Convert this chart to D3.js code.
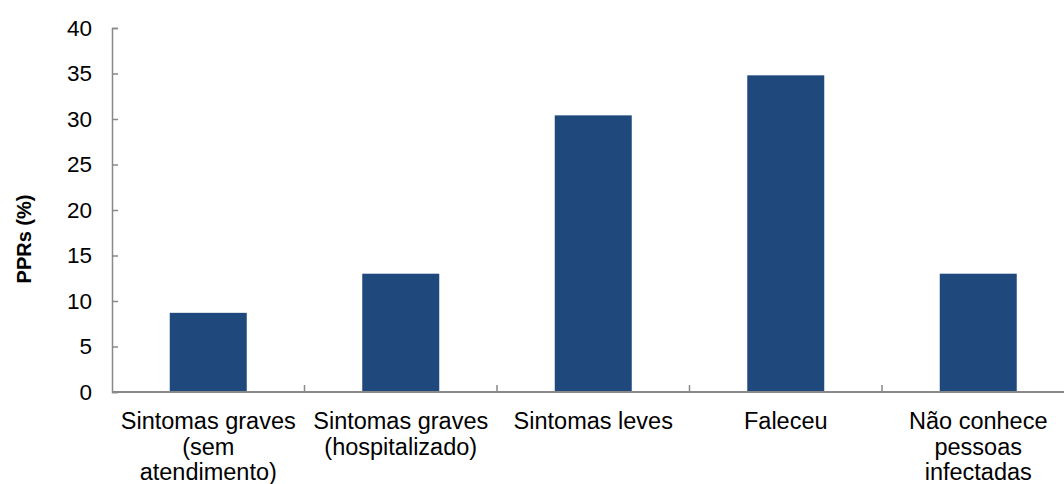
<!DOCTYPE html>
<html>
<head>
<meta charset="utf-8">
<script src="https://cdn.jsdelivr.net/npm/d3@7"></script>
<style>
  html, body { margin: 0; padding: 0; background: #ffffff; }
  svg { display: block; font-family: "Liberation Sans", Arial, sans-serif; }
</style>
</head>
<body>
<svg id="chart" width="1064" height="484"></svg>
<script>
// Categories (each label split into its display lines)
const categories = [
  ["Sintomas graves", "(sem", "atendimento)"],
  ["Sintomas graves", "(hospitalizado)"],
  ["Sintomas leves"],
  ["Faleceu"],
  ["Não conhece", "pessoas", "infectadas"]
];
// PPRs (%) per category
const values = [8.7, 13.0, 30.4, 34.8, 13.0];
// Y-axis ticks
const yTicks = [0, 5, 10, 15, 20, 25, 30, 35, 40];
const yTitle = "PPRs (%)";

(function draw() {
  const svg = d3.select("#chart");
  const W = 1064;
  const plotLeft = 112, plotRight = 1074.5, plotTop = 28, plotBottom = 392;
  const axisColor = "#898989";
  const barColor = "#1f497d";

  const keys = categories.map((c, i) => i);
  const x = d3.scaleBand()
    .domain(keys)
    .range([plotLeft, plotRight])
    .paddingInner(0.6)
    .paddingOuter(0.3);

  const y = d3.scaleLinear()
    .domain([0, 40])
    .range([plotBottom, plotTop]);

  // Bars
  svg.append("g")
    .selectAll("rect")
    .data(values)
    .join("rect")
    .attr("x", (d, i) => x(i))
    .attr("width", x.bandwidth())
    .attr("y", d => y(d))
    .attr("height", d => y(0) - y(d))
    .attr("fill", barColor);

  // Y axis with inward ticks
  const yAxis = d3.axisLeft(y)
    .tickValues(yTicks)
    .tickSizeInner(-6)
    .tickSizeOuter(-6)
    .tickPadding(20);

  const gy = svg.append("g")
    .attr("transform", `translate(${plotLeft},0)`)
    .call(yAxis);
  gy.select(".domain").attr("stroke", axisColor).attr("stroke-width", 1.5);
  gy.selectAll(".tick line").attr("stroke", axisColor).attr("stroke-width", 1.5);
  gy.selectAll(".tick text")
    .attr("font-size", 22.5)
    .attr("fill", "#000")
    .attr("font-family", "Liberation Sans, Arial, sans-serif");

  // X axis baseline and category boundary ticks
  const gx = svg.append("g");
  gx.append("line")
    .attr("x1", plotLeft).attr("x2", W + 2)
    .attr("y1", y(0)).attr("y2", y(0))
    .attr("stroke", axisColor).attr("stroke-width", 2);

  const gap = (x.step() - x.bandwidth()) / 2;
  gx.selectAll("line.bt")
    .data(keys.slice(1))
    .join("line")
    .attr("class", "bt")
    .attr("x1", i => x(i) - gap)
    .attr("x2", i => x(i) - gap)
    .attr("y1", y(0))
    .attr("y2", y(0) - 7)
    .attr("stroke", axisColor).attr("stroke-width", 1.5);

  // Category labels
  const labels = svg.append("g")
    .selectAll("text")
    .data(categories)
    .join("text")
    .attr("text-anchor", "middle")
    .attr("font-size", 23.5)
    .attr("fill", "#000")
    .attr("transform", (d, i) => `translate(${x(i) + x.bandwidth() / 2},429)`);
  labels.selectAll("tspan")
    .data(d => d)
    .join("tspan")
    .attr("x", 0)
    .attr("y", (d, j) => j * 25.5)
    .text(d => d);

  // Y-axis title
  svg.append("text")
    .attr("transform", "translate(31,239) rotate(-90)")
    .attr("text-anchor", "middle")
    .attr("font-size", 20)
    .attr("font-weight", "bold")
    .attr("fill", "#000")
    .text(yTitle);
})();
</script>
</body>
</html>
